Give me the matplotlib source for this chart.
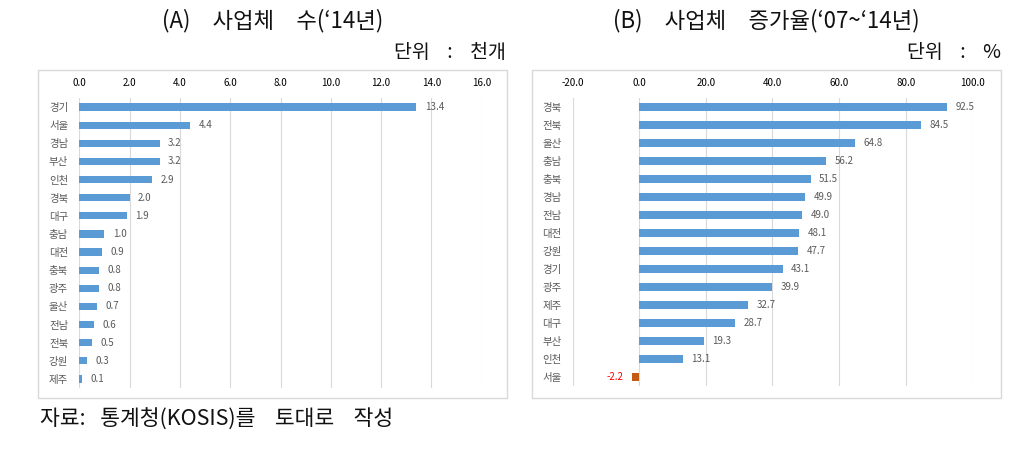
import matplotlib
matplotlib.use("Agg")
import matplotlib.pyplot as plt
from matplotlib.patches import Rectangle

plt.rcParams['font.family'] = ['Noto Sans CJK KR', 'DejaVu Sans']

# (A) number of establishments, 2014 (thousands)
regions_a = ["경기", "서울", "경남", "부산", "인천", "경북", "대구", "충남",
             "대전", "충북", "광주", "울산", "전남", "전북", "강원", "제주"]
counts_a = [13.4, 4.4, 3.2, 3.2, 2.9, 2.0, 1.9, 1.0,
            0.9, 0.8, 0.8, 0.7, 0.6, 0.5, 0.3, 0.1]
ticks_a = [0, 2, 4, 6, 8, 10, 12, 14, 16]

# (B) growth rate 2007~2014 (%)
regions_b = ["경북", "전북", "울산", "충남", "충북", "경남", "전남", "대전",
             "강원", "경기", "광주", "제주", "대구", "부산", "인천", "서울"]
growth_b = [92.5, 84.5, 64.8, 56.2, 51.5, 49.9, 49.0, 48.1,
            47.7, 43.1, 39.9, 32.7, 28.7, 19.3, 13.1, -2.2]
ticks_b = [-20, 0, 20, 40, 60, 80, 100]

BLUE = "#5B9BD5"
NEG = "#C55A11"
GRID = "#D9D9D9"
TXT = "#595959"

W, H = 1034, 454
fig = plt.figure(figsize=(W / 100, H / 100), dpi=100)


def px(x0, y0, x1, y1):
    # pixel box -> figure fraction rect
    return [x0 / W, 1 - y1 / H, (x1 - x0) / W, (y1 - y0) / H]


def draw_panel(ax, cats, vals, ticks, xlim):
    y = list(range(len(cats)))
    colors = [BLUE if v >= 0 else NEG for v in vals]
    ax.barh(y, vals, height=0.4, color=colors, zorder=3)
    ax.set_xlim(*xlim)
    ax.set_ylim(len(cats) - 0.5, -0.5)
    ax.set_xticks(ticks)
    ax.set_xticklabels([f"{t:.1f}" for t in ticks])
    for lab, t in zip(ax.get_xticklabels(), ticks):
        lab.set_color("#C00000" if t < 0 else TXT)
    ax.xaxis.tick_top()
    ax.tick_params(axis="x", length=0, pad=7, labelsize=7)
    ax.set_yticks(y)
    ax.set_yticklabels(cats)
    ax.tick_params(axis="y", length=0, pad=8, labelsize=7.5, labelcolor=TXT)
    ax.grid(axis="x", color=GRID, linewidth=0.8, zorder=0)
    for s in ax.spines.values():
        s.set_visible(False)
    for yi, v in zip(y, vals):
        if v >= 0:
            ax.annotate(f"{v:.1f}", (v, yi), xytext=(6, 0), textcoords="offset points",
                        va="center", ha="left", fontsize=7, color=TXT)
        else:
            ax.annotate(f"{v:.1f}", (v, yi), xytext=(-6, 0), textcoords="offset points",
                        va="center", ha="right", fontsize=7, color="#FF0000")


# frames
for (x0, y0, x1, y1) in [(38, 70, 507, 398), (532, 70, 1001, 398)]:
    fig.patches.append(Rectangle((x0 / W, 1 - y1 / H), (x1 - x0) / W, (y1 - y0) / H,
                                 transform=fig.transFigure, fill=False,
                                 edgecolor=GRID, linewidth=1.0))

ax1 = fig.add_axes(px(79.3, 98, 481.7, 388))
draw_panel(ax1, regions_a, counts_a, ticks_a, (0, 16))

ax2 = fig.add_axes(px(572.7, 98, 972.3, 386))
draw_panel(ax2, regions_b, growth_b, ticks_b, (-20, 100))

fig.text(273 / W, 1 - 21 / H, "(A)\u3000사업체\u3000수(‘14년)", ha="center", va="center",
         fontsize=16, color="#111111")
fig.text(506 / W, 1 - 52 / H, "단위    :    천개", ha="right", va="center",
         fontsize=14, color="#111111")
fig.text(766 / W, 1 - 21 / H, "(B)\u3000사업체\u3000증가율(‘07~‘14년)", ha="center", va="center",
         fontsize=16, color="#111111")
fig.text(1001 / W, 1 - 52 / H, "단위    :    %", ha="right", va="center",
         fontsize=14, color="#111111")
fig.text(40 / W, 1 - 420 / H, "자료:   통계청(KOSIS)를    토대로    작성", ha="left", va="center",
         fontsize=15.5, color="#111111")

fig.savefig("out.png", dpi=100)
